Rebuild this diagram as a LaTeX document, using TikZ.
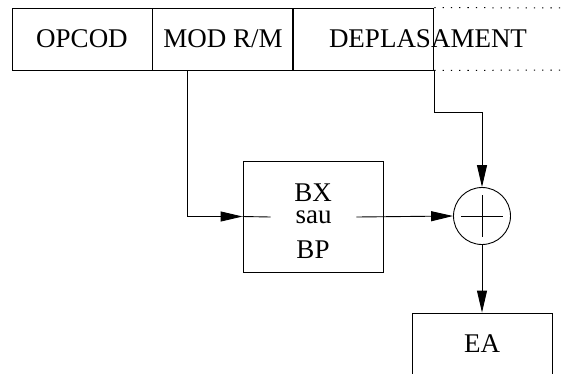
\documentclass[tikz,border=0pt]{standalone}
\usepackage{fontspec}
\setmainfont{Liberation Serif}
\usetikzlibrary{arrows.meta,positioning}

\begin{document}
\begin{tikzpicture}[x=1pt, y=-1pt, >={Triangle[length=22pt,width=10pt]}, line width=0.9pt,
  field/.style={draw, minimum width=140pt, minimum height=62pt, inner sep=0pt, font=\fontsize{27}{30}\selectfont},
  lbl/.style={inner sep=0pt, font=\fontsize{27}{30}\selectfont},
  dots/.style={line width=1pt, dash pattern=on 1.3pt off 7pt}]
\useasboundingbox (0,0) rectangle (564,373);
% instruction format
\node[field] (opcod) at (82,39) {OPCOD};
\node[field, right=0pt of opcod] (modrm) {MOD R/M};
\node[field, right=0pt of modrm] (depl) {};
\node[lbl] (depltxt) at (428,39) {DEPLASAMENT};
\coordinate (dtop) at (564,8); \coordinate (dbot) at (564,70);
\draw[dots] (depl.north east) -- (dtop); \draw[dots] (depl.south east) -- (dbot);
% base register and adder
\node[draw, minimum width=140pt, minimum height=111pt] (reg) at (313,216.5) {};
\node[lbl] (bx) at (313,193) {BX};
\node[lbl, minimum width=85pt] (sau) at (313.5,217) {sau};
\node[lbl] (bp) at (313,250) {BP};
\node[draw, circle, minimum size=57pt, inner sep=0pt] (sum) at (482,216) {};
\draw (sum.center) ++(-21,0) -- ++(42,0); \draw (sum.center) ++(0,-21) -- ++(0,42);
\node[field] (ea) at (482,344) {EA};
\draw[->] ([xshift=-35pt]modrm.south) |- (reg.west); \draw (reg.west) -- (sau.west);
\draw[->] (sau.east) -- (sum.west);
\draw[->] (depl.south east) -- ++(0,42) -| (sum.north);
\draw[->] (sum.south) -- (ea.north);
\end{tikzpicture}
\end{document}
